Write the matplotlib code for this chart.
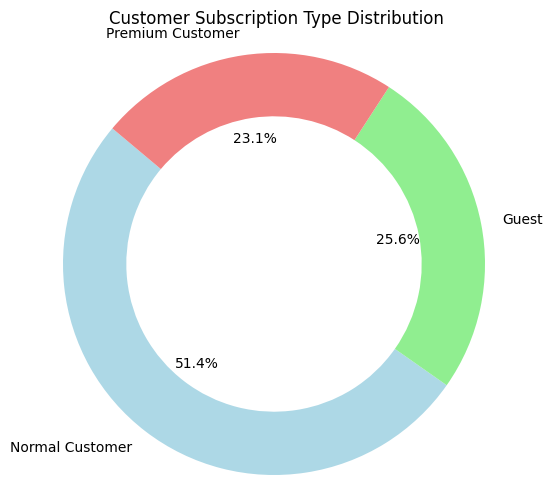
import matplotlib
matplotlib.use('Agg')
import matplotlib.pyplot as plt

# ── Data ──────────────────────────────────────────────────────────────────────
labels = ['Normal Customer', 'Guest', 'Premium Customer']
shares = [51.37, 25.57, 23.06]
colors = ['lightblue', 'lightgreen', 'lightcoral']

# ── Plot ──────────────────────────────────────────────────────────────────────
fig = plt.figure(figsize=(5.52, 5.04), dpi=100)
ax = fig.add_axes([0, 10 / 504, 1, 464 / 504])

ax.pie(shares, labels=labels, colors=colors, autopct='%1.1f%%',
       startangle=140, wedgeprops=dict(width=0.3))
ax.set_xlim(-274 / 211, 278 / 211)
ax.set_ylim(-230 / 211, 234 / 211)
ax.set_aspect('auto')
ax.set_title('Customer Subscription Type Distribution', pad=4)

fig.savefig('out.png', dpi=100)
